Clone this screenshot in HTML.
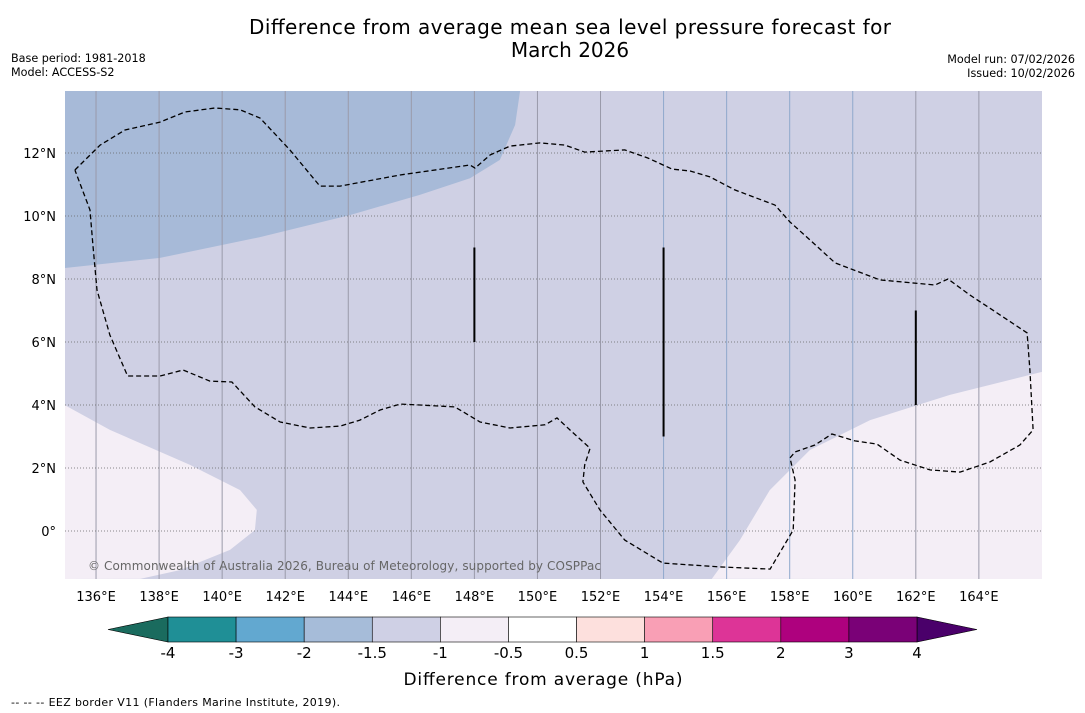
<!DOCTYPE html>
<html><head><meta charset="utf-8">
<style>
body{margin:0;background:#fff;font-family:"DejaVu Sans","Liberation Sans",sans-serif;}
#wrap{position:relative;width:1085px;height:713px;overflow:hidden;}
</style></head>
<body>
<div id="wrap">
<svg id="svg" width="1085" height="713" xmlns="http://www.w3.org/2000/svg"></svg>
</div>
<script>
const lonTicks=[136,138,140,142,144,146,148,150,152,154,156,158,160,162,164];
const latTicks=[0,2,4,6,8,10,12];
const cbLabels=["-4","-3","-2","-1.5","-1","-0.5","0.5","1","1.5","2","3","4"];
const cbColors=["#1f8f96","#62a8d0","#a6bcd9","#cfd0e5","#f4eef6","#ffffff","#fde0dd","#f99fb5","#dd3497","#ae017e","#7a0177"];
const blueLon=[135,138.03,141.2,144.05,146.27,147.86,148.81,149.29,149.45];
const blueLat=[8.35,8.67,9.33,10.03,10.67,11.2,11.78,12.89,13.97];
const swLon=[135,136.44,138.98,140.57,141.1,141.04,140.25,138.66,137.4];
const swLat=[4.0,3.21,2.10,1.30,0.67,0.03,-0.60,-1.24,-1.52];
const seLon=[155.53,156.42,157.37,158.64,160.55,163.08,166];
const seLat=[-1.52,-0.29,1.30,2.57,3.52,4.32,5.05];
const eezLon=[135.33,136.13,136.92,138.03,138.82,139.77,140.57,141.2,142.15,143.1,143.74,145.64,147.86,148.02,148.5,149.13,150.08,150.87,151.5,152.77,153.5,154.27,154.84,155.47,156.26,157.53,158.01,158.64,159.44,160.86,162.61,163.02,163.72,164.67,165.53,165.62,165.72,165.3,164.35,163.4,162.45,161.5,160.77,160.07,159.34,158.8,158.17,158.01,158.17,158.11,157.38,155.79,153.98,152.77,151.98,151.44,151.5,151.67,151.03,150.62,150.24,149.13,148.18,147.38,146.27,145.64,145.01,144.37,143.74,142.79,141.84,141.04,140.31,139.61,138.76,138.03,137.0,136.44,136.03,135.9,135.81,135.33];
const eezLat=[11.46,12.25,12.73,12.98,13.30,13.43,13.37,13.11,12.10,10.95,10.95,11.30,11.62,11.52,11.94,12.22,12.32,12.25,12.03,12.10,11.84,11.49,11.43,11.24,10.83,10.35,9.81,9.24,8.51,7.97,7.81,8.0,7.49,6.86,6.29,5.11,3.21,2.73,2.19,1.87,1.94,2.25,2.76,2.86,3.08,2.73,2.51,2.32,1.62,0.03,-1.21,-1.14,-1.02,-0.29,0.67,1.56,2.10,2.63,3.21,3.59,3.37,3.27,3.46,3.94,4.0,4.03,3.84,3.52,3.33,3.27,3.46,3.94,4.73,4.76,5.11,4.92,4.92,6.22,7.65,9.08,10.19,11.46];
const segLon=[148,154,162];
const segTop=[9,9,7];
const segBot=[6,3,4];

const NS="http://www.w3.org/2000/svg";
const svg=document.getElementById('svg');
const X0=65,X1=1042,Y0=91,Y1=579;
const xs=lon=>64.5+(lon-135)*31.53;
const ys=lat=>531-lat*31.5;
const FF='DejaVu Sans, Liberation Sans, sans-serif';
function mk(tag,attrs,parent){const e=document.createElementNS(NS,tag);for(const k in attrs)e.setAttribute(k,attrs[k]);(parent||svg).appendChild(e);return e;}
function txt(s,x,y,size,anchor,parent){const t=mk('text',{x:x,y:y,'font-size':size,'text-anchor':anchor||'start','font-family':FF,fill:'#000'},parent);t.textContent=s;return t;}

const defs=mk('defs',{});
const cp=mk('clipPath',{id:'mapclip'},defs);
mk('rect',{x:X0,y:Y0,width:X1-X0,height:Y1-Y0},cp);
const map=mk('g',{'clip-path':'url(#mapclip)'});


const bg=mk('rect',{x:X0,y:Y0,width:X1-X0,height:Y1-Y0,fill:'#cfd0e4'},map);



function poly(lons,lats,extra){return lons.map((l,i)=>xs(l).toFixed(1)+','+ys(lats[i]).toFixed(1)).join(' ')+(extra||'');}
const blue=mk('polygon',{points:poly(blueLon,blueLat,' '+X0+','+Y0),fill:'#a7bad8'},map);


const sw=mk('polygon',{points:poly(swLon,swLat,' '+X0+','+Y1),fill:'#f4eef6'},map);


const se=mk('polygon',{points:poly(seLon,seLat,' '+X1+','+Y1),fill:'#f4eef6'},map);



lonTicks.forEach(l=>{
  const c=l>=154&&l<=160?'#8fa8cc':'#9a9aaa';
  const g=mk('line',{x1:xs(l),x2:xs(l),y1:Y0,y2:Y1,stroke:c,'stroke-width':1},map);
  
  
});
latTicks.forEach(l=>{
  const g=mk('line',{x1:X0,x2:X1,y1:ys(l),y2:ys(l),stroke:'#666','stroke-width':0.8,'stroke-dasharray':'1,2'},map);
  
  
});
const eez=mk('polyline',{points:poly(eezLon,eezLat),fill:'none',stroke:'#000','stroke-width':1.3,'stroke-dasharray':'5,3'},map);


segLon.forEach((l,i)=>{
  const s=mk('line',{x1:xs(l),x2:xs(l),y1:ys(segTop[i]),y2:ys(segBot[i]),stroke:'#000','stroke-width':2},map);
  
  
});
const cr=txt('© Commonwealth of Australia 2026, Bureau of Meteorology, supported by COSPPac',88,570,12,'start',map);
cr.setAttribute('fill','#666');
cr.setAttribute('textLength','513');



lonTicks.forEach(l=>{const t=txt(l+'°E',xs(l),601,13,'middle');
  
  });
latTicks.forEach(l=>{const t=txt(l===0?'0°':l+'°N',56,ys(l)+5,13,'end');
  
  });

let t=txt('Difference from average mean sea level pressure forecast for',570,34,20,'middle');
t.setAttribute('textLength','642');

t=txt('March 2026',570,57,20,'middle');

t=txt('Base period: 1981-2018',11,62,11.2);
t=txt('Model: ACCESS-S2',11,76,11.2);
t=txt('Model run: 07/02/2026',1075,63,11.2,'end');
t=txt('Issued: 10/02/2026',1075,77,11.2,'end');

const cbX0=168,cbX1=917,cbY=617,cbH=25,bw=(cbX1-cbX0)/cbColors.length;
const la=mk('polygon',{points:`108,629.5 ${cbX0},${cbY} ${cbX0},${cbY+cbH}`,fill:'#1a6b5e',stroke:'#000','stroke-width':0.6});

const ra=mk('polygon',{points:`977,629.5 ${cbX1},${cbY} ${cbX1},${cbY+cbH}`,fill:'#4a006a',stroke:'#000','stroke-width':0.6});

cbColors.forEach((c,i)=>{const r=mk('rect',{x:cbX0+i*bw,y:cbY,width:bw,height:cbH,fill:c,stroke:'#000','stroke-width':0.6});
  });
cbLabels.forEach((s,i)=>{const tt=txt(s,cbX0+i*bw,658,15,'middle');
  });
t=txt('Difference from average (hPa)',543,685,17,'middle');t.setAttribute('textLength','279');
t=txt('--  --  -- EEZ border V11 (Flanders Marine Institute, 2019).',11,706,11);t.setAttribute('textLength','329');
</script>
</body></html>
